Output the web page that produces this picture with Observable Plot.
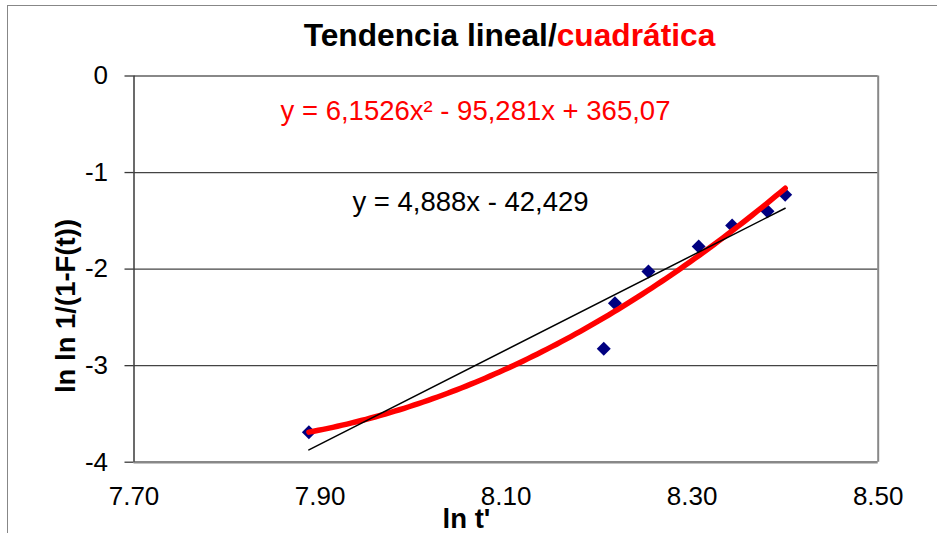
<!DOCTYPE html>
<html>
<head>
<meta charset="utf-8">
<script src="https://cdn.jsdelivr.net/npm/d3@7"></script>
<script src="https://cdn.jsdelivr.net/npm/@observablehq/plot@0.6"></script>
<style>
  html, body { margin: 0; padding: 0; background: #fff; overflow: hidden; }
  #chart { position: relative; width: 937px; height: 533px; font-family: "Liberation Sans", Arial, sans-serif; }
  #outline { position: absolute; left: 7px; top: 5px; width: 2000px; height: 2000px;
             border-left: 1.6px solid #878787; border-top: 1.6px solid #878787; pointer-events: none; }
  #title { box-sizing: border-box; width: 937px; height: 60px; padding-left: 82px;
           text-align: center; line-height: 71px; font-weight: bold; font-size: 31.7px; color: #000;
           white-space: nowrap; overflow: visible; }
  #title .q { color: #ff0000; }
  #ytitle { position: absolute; left: -84.5px; top: 285.5px; width: 300px; height: 40px;
            line-height: 40px; text-align: center; font-weight: bold; font-size: 27.5px; color: #000;
            white-space: nowrap; transform: rotate(-90deg); transform-origin: 50% 50%; }
  #plot svg { display: block; }
</style>
</head>
<body>
<div id="chart">
  <div id="outline"></div>
  <div id="title">Tendencia lineal/<span class="q">cuadrática</span></div>
  <div id="plot"></div>
  <div id="ytitle"></div>
</div>
<script>
// Observed points: ln t' against ln ln 1/(1-F(t))
const lnT    = [7.888, 8.205, 8.217, 8.253, 8.307, 8.343, 8.381, 8.400];
const lnlnF  = [-3.689, -2.826, -2.353, -2.025, -1.766, -1.549, -1.400, -1.230];

// Fitted trend lines, as stated in the equation labels
const quadCoef = [6.1526, -95.281, 365.07];   // a·x² + b·x + c
const linCoef  = [4.888, -42.429];            // m·x + k
const quadLabel = "y = 6,1526x² - 95,281x + 365,07";
const linLabel  = "y = 4,888x - 42,429";

// Axis ticks and titles
const xTicks = [7.70, 7.90, 8.10, 8.30, 8.50];
const yTicks = [0, -1, -2, -3, -4];
const xTitle = "ln t'";
const yTitle = "ln ln 1/(1-F(t))";

const points = lnT.map((x, i) => ({x, y: lnlnF[i]}));
const x0 = d3.min(lnT), x1 = d3.max(lnT);
const quad = x => quadCoef[0] * x * x + quadCoef[1] * x + quadCoef[2];
const lin = x => linCoef[0] * x + linCoef[1];
const quadPts = d3.range(0, 101).map(i => { const x = x0 + (x1 - x0) * i / 100; return {x, y: quad(x)}; });
const linPts = [x0, x1].map(x => ({x, y: lin(x)}));

const font = '"Liberation Sans", Arial, sans-serif';

const chart = Plot.plot({
  width: 937,
  height: 473,
  marginTop: 15.5,
  marginRight: 59.3,
  marginBottom: 71.3,
  marginLeft: 133.5,
  x: {domain: [7.7, 8.5]},
  y: {domain: [-4, 0]},
  style: {fontFamily: font, fontSize: "26px", color: "#000", background: "#fff", overflow: "visible"},
  marks: [
    // horizontal gridlines
    Plot.ruleY([-1, -2, -3], {stroke: "#444", strokeWidth: 1.3}),
    // plot-area border
    Plot.ruleY([0], {stroke: "#888", strokeWidth: 2}),
    Plot.ruleX([8.5], {stroke: "#888", strokeWidth: 2}),
    Plot.ruleY([-4], {stroke: "#888", strokeWidth: 2.5}),
    Plot.ruleX([7.7], {stroke: "#3a3a3a", strokeWidth: 1.5}),
    // axes
    Plot.axisX({ticks: xTicks, tickFormat: d3.format(".2f"), tickSize: 0, tickPadding: 24,
                fontSize: 26, label: null}),
    Plot.axisY({ticks: yTicks, tickFormat: d => String(d), tickSize: 9, tickPadding: 17,
                stroke: "#3a3a3a", strokeWidth: 1.3, fontSize: 26, label: null}),
    // observations
    Plot.dot(points, {x: "x", y: "y", symbol: "diamond2", r: 6.3, fill: "#000080", stroke: "none"}),
    // quadratic and linear trends
    Plot.line(quadPts, {x: "x", y: "y", stroke: "#ff0000", strokeWidth: 5.5, strokeLinecap: "round"}),
    Plot.line(linPts, {x: "x", y: "y", stroke: "#000", strokeWidth: 1.5}),
    // trend equations
    Plot.text([quadLabel], {text: d => d, frameAnchor: "top", lineAnchor: "middle",
               dx: -30.6, dy: 35.5, fill: "#ff0000", fontSize: 27.5}),
    Plot.text([linLabel], {text: d => d, frameAnchor: "top", lineAnchor: "middle",
               dx: -35.6, dy: 126.5, fill: "#000", fontSize: 27.5}),
    // x-axis title
    Plot.text([xTitle], {text: d => d, frameAnchor: "bottom", lineAnchor: "middle",
               dx: -39.6, dy: 56.5, fontSize: 27.5, fontWeight: "bold"})
  ]
});
document.getElementById("plot").appendChild(chart);
document.getElementById("ytitle").textContent = yTitle;
</script>
</body>
</html>
